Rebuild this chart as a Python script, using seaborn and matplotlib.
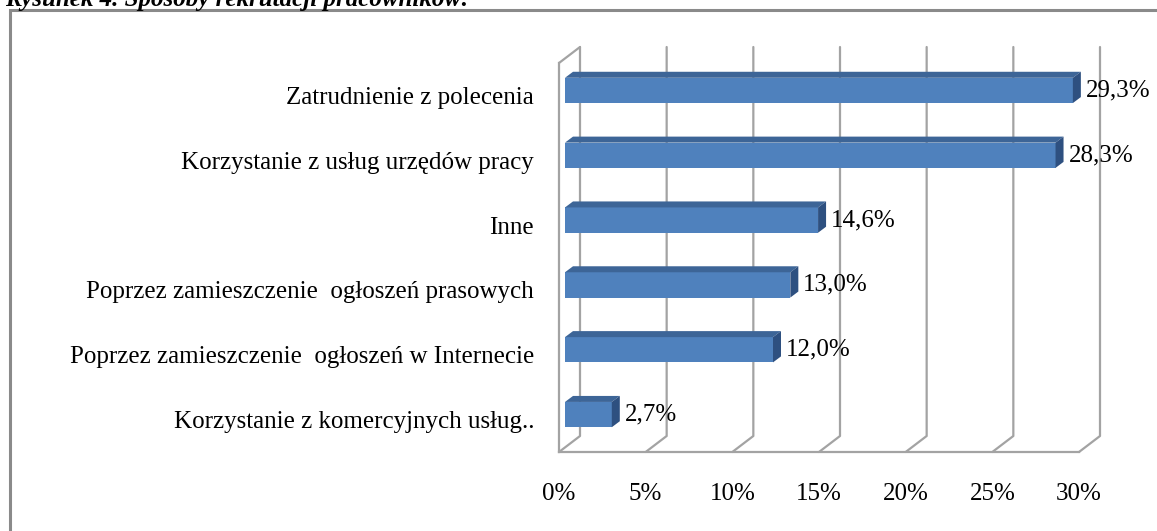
import numpy as np
import pandas as pd
import matplotlib
matplotlib.use("Agg")
import matplotlib.pyplot as plt
import seaborn as sns
from matplotlib.patches import Polygon, Rectangle
from matplotlib.lines import Line2D
from matplotlib.transforms import offset_copy, IdentityTransform

# Data
categories = [
    "Zatrudnienie z polecenia",
    "Korzystanie z usług urzędów pracy",
    "Inne",
    "Poprzez zamieszczenie  ogłoszeń prasowych",
    "Poprzez zamieszczenie  ogłoszeń w Internecie",
    "Korzystanie z komercyjnych usług..",
]
values = [29.3, 28.3, 14.6, 13.0, 12.0, 2.7]
value_labels = ["29,3%", "28,3%", "14,6%", "13,0%", "12,0%", "2,7%"]
x_ticks = [0, 5, 10, 15, 20, 25, 30]
x_tick_labels = ["0%", "5%", "10%", "15%", "20%", "25%", "30%"]
title = "Rysunek 4. Sposoby rekrutacji pracowników:"

# Colours
FRONT = "#4f81bd"
TOP = "#3d6597"
SIDE = "#2e5080"
GRID = "#a3a3a3"
BORDER = "#8a8a8a"

W, H = 1157, 531
sns.set_style("white")
plt.rcParams["font.family"] = ["Liberation Serif", "DejaVu Serif"]
plt.rcParams["text.color"] = "black"
plt.rcParams["xtick.labelcolor"] = "black"
plt.rcParams["ytick.labelcolor"] = "black"

fig = plt.figure(figsize=(W / 100, H / 100), dpi=100)

# front plane of the plot: x 559..1079 px, y 63..452 px (from top)
ax = fig.add_axes([559 / W, 1 - 452 / H, 520 / W, 389 / H])
ax.patch.set_alpha(0)

df = pd.DataFrame({"kategoria": categories, "udzial": values})
sns.barplot(data=df, y="kategoria", x="udzial", orient="h", width=0.39,
            color=FRONT, saturation=1, edgecolor="none", ax=ax)
ax.set_xlim(0, 30)
ax.set_ylim(5.5, -0.5)
ax.set_xlabel("")
ax.set_ylabel("")

# bars sit a bit behind the front plane
bar_shift = offset_copy(ax.transData, fig=fig, x=6, y=5, units="dots")
depth_x, depth_y = 8, 6
for p in ax.patches:
    p.set_transform(bar_shift)
    p.set_zorder(3)
    x0, y0, w, h = p.get_x(), p.get_y(), p.get_width(), p.get_height()
    tl = bar_shift.transform((x0, y0))
    tr = bar_shift.transform((x0 + w, y0))
    br = bar_shift.transform((x0 + w, y0 + h))
    top = Polygon([tl, tr, tr + (depth_x, depth_y), tl + (depth_x, depth_y)],
                  closed=True, fc=TOP, ec="none", transform=IdentityTransform(),
                  clip_on=False, zorder=3)
    side = Polygon([tr, br, br + (depth_x, depth_y), tr + (depth_x, depth_y)],
                   closed=True, fc=SIDE, ec="none", transform=IdentityTransform(),
                   clip_on=False, zorder=3)
    ax.add_patch(top)
    ax.add_patch(side)

# value labels
label_tr = offset_copy(ax.transData, fig=fig, x=6 + 13, y=5, units="dots")
for i, (v, lab) in enumerate(zip(values, value_labels)):
    ax.text(v, i, lab, transform=label_tr, ha="left", va="center",
            fontsize=18, color="black", zorder=4)

# back wall grid lines with floor diagonals
back_dx, back_dy = 21, 16
wall_top = H - 47
for t in x_ticks:
    fx0, fy0 = ax.transData.transform((t, 5.5))
    ax.add_line(Line2D([fx0, fx0 + back_dx, fx0 + back_dx],
                       [fy0, fy0 + back_dy, wall_top],
                       color=GRID, lw=1.6, transform=IdentityTransform(),
                       clip_on=False, zorder=1))
# left wall top diagonal
lx, ly = ax.transData.transform((0, -0.5))
ax.add_line(Line2D([lx, lx + back_dx], [ly, ly + back_dy], color=GRID, lw=1.6,
                   transform=IdentityTransform(), clip_on=False, zorder=1))

# axes styling
for s in ["top", "right"]:
    ax.spines[s].set_visible(False)
for s in ["left", "bottom"]:
    ax.spines[s].set_color(GRID)
    ax.spines[s].set_linewidth(1.6)

ax.set_xticks(x_ticks)
ax.set_xticklabels(x_tick_labels, fontsize=18)
ax.tick_params(axis="x", direction="out", length=6, width=1.6, color=GRID,
               pad=16, labelcolor="black")
ax.set_yticks(range(len(categories)))
ax.set_yticklabels(categories, fontsize=18)
ax.tick_params(axis="y", which="major", length=0, pad=18, labelcolor="black")
ax.set_yticks(np.arange(-0.5, len(categories)), minor=True)
ax.tick_params(axis="y", which="minor", direction="out", length=7, width=1.6,
               color=GRID)
ax.grid(False)

# caption cut off by the top edge, as in the source screenshot
fig.text(5 / W, 1 - 6 / H, title, fontsize=18, fontweight="bold",
         style="italic", va="baseline", ha="left", color="black")

# frame around the chart (extends past the right and bottom edge)
fig.add_artist(Rectangle((10 / W, -0.2), 1.2, 1.2 - 10 / H,
                         transform=fig.transFigure, fill=False,
                         ec=BORDER, lw=2.2))

fig.savefig("out.png", dpi=100)
